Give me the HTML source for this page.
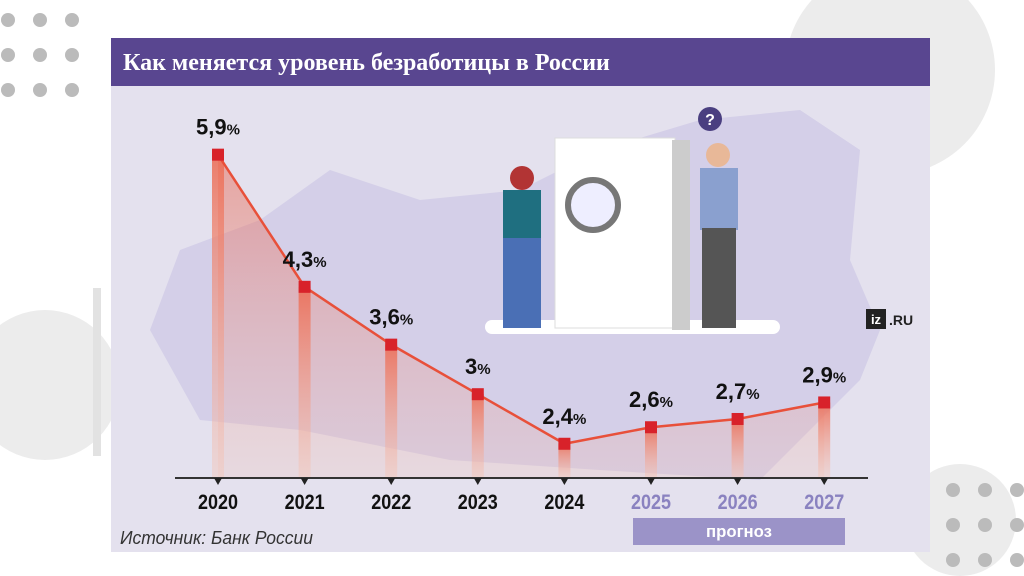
<!DOCTYPE html>
<html style="overflow:hidden;margin:0"><head><meta charset="utf-8"><style>
html,body{margin:0;padding:0;width:1024px;height:576px;overflow:hidden}
body{background:#fff;position:relative;font-family:"Liberation Sans",sans-serif}
svg{display:block;overflow:hidden}
</style></head><body>
<svg width="1024" height="576" viewBox="0 0 1024 576" style="position:absolute;left:0;top:0">
<defs>
<linearGradient id="ag" x1="0" y1="0" x2="0" y2="1"><stop offset="0" stop-color="#e8573f" stop-opacity="0.75"/><stop offset="1" stop-color="#f3b9a8" stop-opacity="0.35"/></linearGradient>
<linearGradient id="bg" x1="0" y1="0" x2="0" y2="1"><stop offset="0" stop-color="#ec6a52" stop-opacity="0.85"/><stop offset="1" stop-color="#f5c4b4" stop-opacity="0.4"/></linearGradient>
</defs>
<g fill="#ececec">
<circle cx="890" cy="70" r="105"/><circle cx="45" cy="385" r="75"/><circle cx="960" cy="520" r="56"/>
<rect x="93" y="288" width="8" height="168" fill="#e2e2e2"/>
</g>
<g id="dots"></g>
<rect x="111" y="38" width="819" height="514" fill="#e4e1ee"/>
<rect x="111" y="38" width="819" height="48" fill="#594690"/>
<text x="123" y="70" fill="#fff" font-family="Liberation Serif,serif" font-size="24" font-weight="bold">Как меняется уровень безработицы в России</text>
<path d="M150 330 L180 250 L260 220 L330 170 L420 200 L520 190 L600 150 L700 120 L800 110 L860 150 L850 260 L880 330 L860 380 L820 420 L760 480 L600 470 L450 460 L300 430 L200 420 Z" fill="#d0cae6" opacity="0.8"/>
<g>
<rect x="485" y="320" width="295" height="14" rx="7" fill="#fff"/>
<rect x="555" y="138" width="120" height="190" fill="#fff" stroke="#ddd"/>
<rect x="672" y="140" width="18" height="190" fill="#ccc"/>
<circle cx="593" cy="205" r="25" fill="#eef" stroke="#777" stroke-width="6"/>
<rect x="503" y="190" width="38" height="50" fill="#1f6f80"/><rect x="503" y="238" width="38" height="90" fill="#4a6fb5"/>
<circle cx="522" cy="178" r="12" fill="#b23434"/>
<rect x="700" y="168" width="38" height="62" fill="#8aa0cf"/><rect x="702" y="228" width="34" height="100" fill="#555"/>
<circle cx="718" cy="155" r="12" fill="#e8b898"/>
<circle cx="710" cy="119" r="12" fill="#4a3f80"/><text x="710" y="125" fill="#fff" font-size="16" font-weight="bold" text-anchor="middle">?</text>
</g>
<g><rect x="866" y="309" width="20" height="20" fill="#222"/><text x="876" y="324" fill="#fff" font-size="13" font-weight="bold" text-anchor="middle">iz</text><text x="889" y="325" fill="#222" font-size="14" font-weight="bold">.RU</text></g>
<g id="chart"></g>
<rect x="633" y="518" width="212" height="27" fill="#9b93c8"/>
<text x="739" y="537" fill="#fff" font-size="17" font-weight="bold" text-anchor="middle" textLength="66" lengthAdjust="spacingAndGlyphs">прогноз</text>
<text x="120" y="544" fill="#333" font-size="18" font-style="italic" textLength="193" lengthAdjust="spacingAndGlyphs">Источник: Банк России</text>
</svg>
<script>
const years=["2020","2021","2022","2023","2024","2025","2026","2027"];
const values=[5.9,4.3,3.6,3.0,2.4,2.6,2.7,2.9];
const labels=["5,9","4,3","3,6","3","2,4","2,6","2,7","2,9"];
const forecast=[false,false,false,false,false,true,true,true];
const NS="http://www.w3.org/2000/svg";
const g=document.getElementById('chart');
const xs=i=>218+i*86.6, ys=v=>642-v*82.6, base=478;
function mk(t,a){const e=document.createElementNS(NS,t);for(const k in a)e.setAttribute(k,a[k]);g.appendChild(e);return e;}
let d=`M${xs(0)} ${base}`;values.forEach((v,i)=>d+=` L${xs(i)} ${ys(v)}`);d+=` L${xs(values.length-1)} ${base} Z`;
const area=mk('path',{d,fill:'url(#ag)',opacity:0.6});


values.forEach((v,i)=>{const b=mk('rect',{x:xs(i)-6,y:ys(v),width:12,height:base-ys(v),fill:'url(#bg)'});

});
const pts=values.map((v,i)=>xs(i)+','+ys(v)).join(' ');
const ln=mk('polyline',{points:pts,fill:'none',stroke:'#e8503a','stroke-width':2.5});


const ax=mk('line',{x1:175,y1:base,x2:868,y2:base,stroke:'#333','stroke-width':2});


values.forEach((v,i)=>{
const m=mk('rect',{x:xs(i)-6,y:ys(v)-6,width:12,height:12,fill:'#d8222a'});


const tk=mk('path',{d:`M${xs(i)-4} ${base} L${xs(i)+4} ${base} L${xs(i)} ${base+7} Z`,fill:'#222'});


const t=mk('text',{x:xs(i),y:509,'text-anchor':'middle','font-size':21,'font-weight':'bold',textLength:40,lengthAdjust:'spacingAndGlyphs',fill:forecast[i]?'#8a82c0':'#111'});
t.textContent=years[i];


const vl=mk('text',{x:xs(i),y:ys(v)-20,'text-anchor':'middle','font-size':22,'font-weight':'bold',fill:'#111'});
vl.innerHTML=labels[i]+'<tspan font-size="15">%</tspan>';


});
const dg=document.getElementById('dots');
[[0,10],[945,480]].forEach(([ox,oy])=>{for(let r=0;r<3;r++)for(let c=0;c<3;c++){const cc=document.createElementNS(NS,'circle');
cc.setAttribute('cx',ox+8+c*32);cc.setAttribute('cy',oy+10+r*35);cc.setAttribute('r',7);cc.setAttribute('fill','#bbb');


dg.appendChild(cc);}});
</script>
</body></html>
